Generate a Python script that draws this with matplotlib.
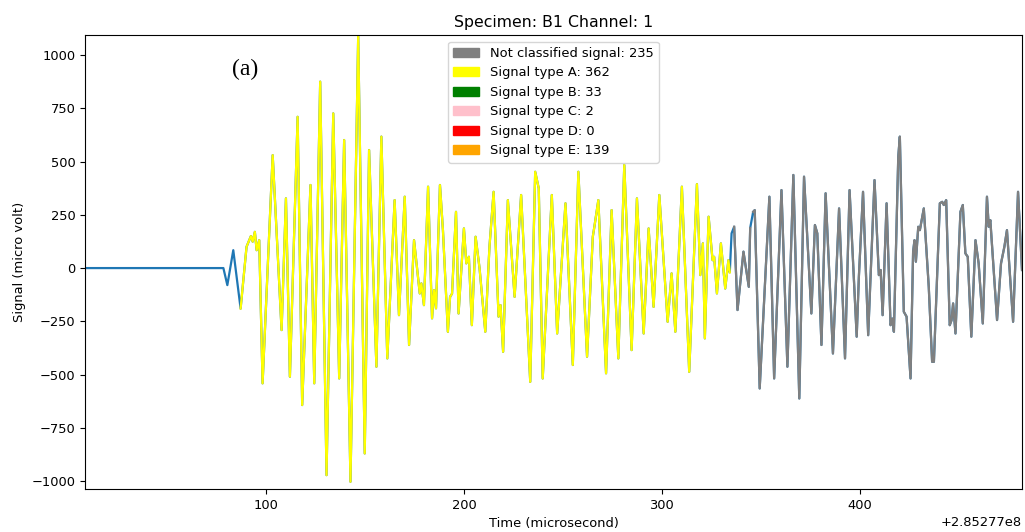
import matplotlib
matplotlib.use("Agg")
import matplotlib.pyplot as plt
import matplotlib.patches as mpatches
from matplotlib.ticker import MultipleLocator
import numpy as np

plt.rcParams["font.size"] = 9.4

# Acquisition start (absolute time stamp, microseconds)
T0 = 285277000.0

# Waveform samples: time relative to T0 (microsecond) and amplitude (micro volt)
time_us = [
    8.6, 78.5, 80.5, 83.5, 87.2, 90.2, 92.4, 93.3, 94.4, 95.3, 96.6, 98.3,
    103.4, 107.9, 110.1, 112.1, 116.0, 118.3, 122.5, 124.4, 127.4, 130.6,
    134.0, 137.0, 139.5, 142.7, 146.6, 149.9, 152.1, 155.8, 158.3, 161.3,
    165.0, 167.2, 170.1, 172.3, 174.8, 177.7, 178.5, 179.8, 181.9, 183.9,
    184.9, 185.9, 187.9, 189.4, 191.9, 193.0, 194.0, 196.0, 197.3, 200.0,
    201.2, 202.5, 204.0, 205.9, 207.9, 210.8, 212.9, 215.0, 217.5, 218.5,
    219.8, 222.2, 225.6, 228.9, 233.5, 236.0, 237.8, 239.8, 244.4, 247.1,
    251.3, 255.0, 257.8, 262.2, 265.1, 265.9, 267.9, 271.8, 274.6, 278.0,
    281.0, 284.7, 287.4, 290.8, 293.3, 295.8, 298.7, 302.9, 304.9, 306.8,
    310.1, 313.8, 317.7, 319.4, 320.7, 321.7, 323.6, 325.6, 326.4, 327.8,
    329.8, 332.0, 333.6, 334.3, 335.2, 336.5, 338.2, 341.2, 343.9, 344.6,
    346.1, 346.9, 349.4, 354.3, 356.7, 360.4, 363.4, 366.4, 369.4, 371.8,
    375.5, 377.3, 378.5, 380.6, 382.7, 386.4, 389.5, 392.5, 394.8, 398.4,
    399.5, 401.6, 404.2, 407.4, 409.6, 410.5, 411.5, 413.5, 415.5, 416.4,
    417.2, 419.4, 420.2, 422.2, 423.6, 425.6, 426.9, 427.6, 428.3, 429.5,
    430.3, 432.3, 434.8, 436.5, 437.4, 440.4, 441.6, 442.4, 443.6, 445.4,
    446.3, 447.1, 448.3, 450.8, 452.0, 453.3, 454.5, 456.3, 458.4, 460.0,
    462.1, 464.2, 465.1, 465.9, 469.3, 471.3, 473.0, 474.3, 477.4, 479.9,
    481.9,
]
signal_uv = [
    0, 0, -80, 84, -190, 100, 150, 124, 170, 84, 131, -541,
    530, -291, 327, -510, 710, -643, 390, -541, 875, -972,
    726, -518, 601, -1003, 1090, -870, 554, -463, 617, -424,
    319, -221, 335, -361, 131, -119, -72, -174, 382, -236,
    -103, -189, 390, 178, -299, -135, -120, 264, -213, 186,
    22, 53, -268, 147, -1, -299, 100, 358, -228, -174,
    -393, 319, -135, 343, -534, 452, 374, -518, 343, -307,
    304, -455, 452, -416, 147, 194, 319, -494, 272, -424,
    484, -385, 327, -307, 186, -182, 343, -252, -25, -299,
    382, -487, 394, -33, 116, -330, 241, 37, 53, -119,
    116, -96, 37, -20, 163, 194, -197, 77, -88, 188,
    264, 272, -565, 335, -518, 366, -463, 437, -612, 429,
    -213, 202, 163, -361, 351, -401, 280, -424, 366, -322,
    -41, 358, -315, 413, -33, -9, -221, 304, -268, -237,
    -299, 523, 617, -205, -228, -518, 77, 131, 30, 194,
    178, 280, -88, -440, -440, 304, 311, 296, 319, -268,
    -245, -166, -307, 264, 296, 69, 53, -322, 131, 22,
    -260, 335, 194, 225, -244, 22, 100, 178, -252, 358,
    -9,
]

# Classified stretches of the waveform (relative time, microsecond)
type_a_spans = [(87.2, 334.3)]
unclassified_spans = [(336.5, 344.6), (346.1, 481.9)]

# Legend entries
legend_labels = ["Not classified signal", "Signal type A", "Signal type B",
                 "Signal type C", "Signal type D", "Signal type E"]
legend_counts = [235, 362, 33, 2, 0, 139]
legend_colors = ["gray", "yellow", "green", "pink", "red", "orange"]

rel = np.asarray(time_us)
t = T0 + rel
v = np.asarray(signal_uv, dtype=float)

fig = plt.figure(figsize=(10.25, 5.32), dpi=100)
ax = fig.add_axes([85 / 1025, 1 - 489 / 532, 937 / 1025, 454 / 532])

ax.plot(t, v, color="C0", lw=1.6)
for a, b in type_a_spans:
    m = (rel >= a) & (rel <= b)
    ax.plot(t[m], v[m], color="yellow", lw=1.6)
for a, b in unclassified_spans:
    m = (rel >= a) & (rel <= b)
    ax.plot(t[m], v[m], color="gray", lw=1.6)

ax.set_xlim(t[0], t[-1])
ax.set_ylim(-1037, 1094)
ax.yaxis.set_major_locator(MultipleLocator(250))

ax.set_title("Specimen: B1 Channel: 1", fontsize=11.3)
ax.set_xlabel("Time (microsecond)")
ax.set_ylabel("Signal (micro volt)")

ax.text(0.171, 0.925, "(a)", transform=ax.transAxes, ha="center", va="center",
        fontsize=17, family="Liberation Serif")

handles = [mpatches.Patch(color=c, label=f"{l}: {n}")
           for l, n, c in zip(legend_labels, legend_counts, legend_colors)]
ax.legend(handles=handles, loc="upper center", fontsize=9.4)

fig.savefig("out.png", dpi=100)
